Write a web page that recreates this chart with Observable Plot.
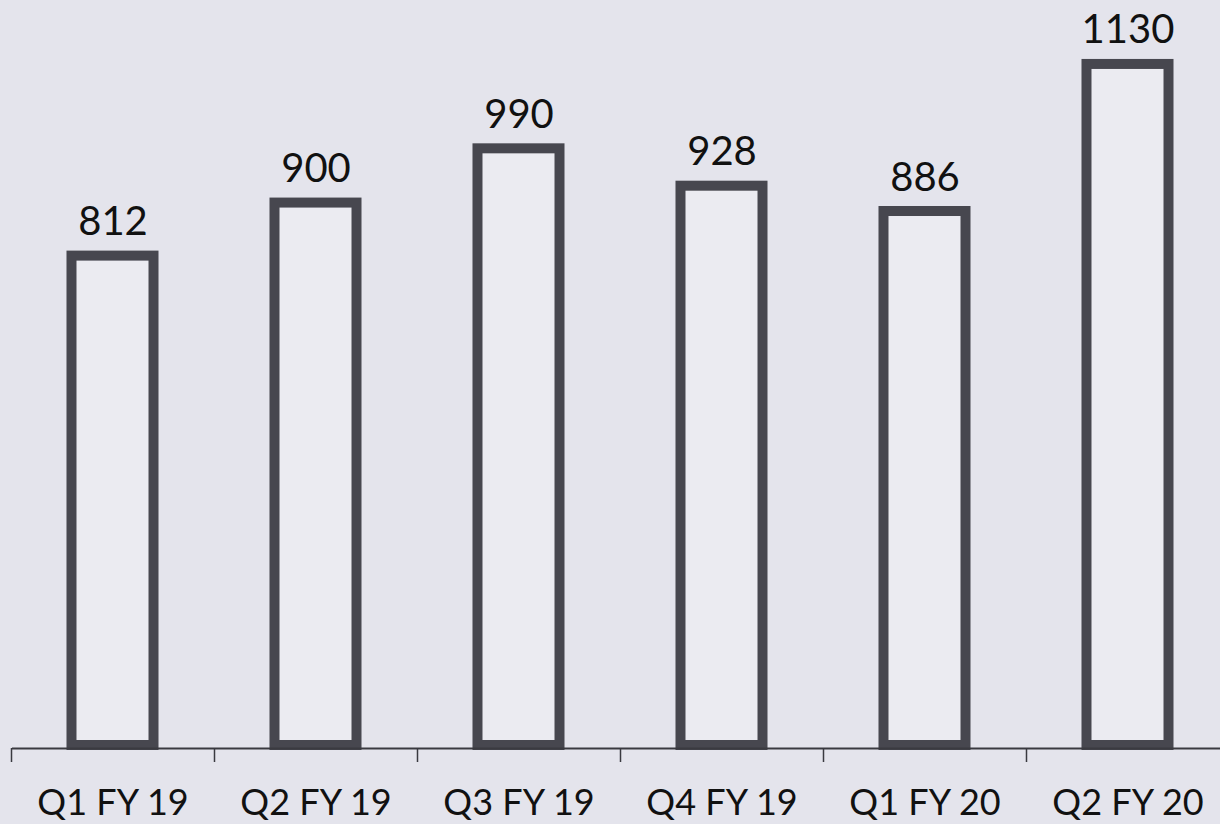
<!DOCTYPE html>
<html>
<head>
<meta charset="utf-8">
<script src="https://cdn.jsdelivr.net/npm/d3@7"></script>
<script src="https://cdn.jsdelivr.net/npm/@observablehq/plot@0.6"></script>
<style>
  html, body { margin: 0; padding: 0; background: #e4e4ec; }
  #chart svg { display: block; background: #e4e4ec; }
</style>
</head>
<body>
<div id="chart"></div>
<script>
const quarters = ["Q1 FY 19", "Q2 FY 19", "Q3 FY 19", "Q4 FY 19", "Q1 FY 20", "Q2 FY 20"];
const values = [812, 900, 990, 928, 886, 1130];

const data = quarters.map((q, i) => ({quarter: q, value: values[i]}));

const x0 = 11, step = 203;
const y0 = 745, pxPerUnit = 0.6027;
const yMax = 1200;

const chart = Plot.plot({
  width: 1220,
  height: 824,
  marginLeft: 0,
  marginRight: 0,
  marginTop: y0 - yMax * pxPerUnit,
  marginBottom: 824 - y0,
  style: {background: "#e4e4ec", fontFamily: "Lato, 'Open Sans', sans-serif", color: "#111"},
  x: {domain: quarters, range: [x0, x0 + step * quarters.length], paddingInner: 0.596, paddingOuter: 0.298, align: 0.5, round: false},
  y: {domain: [0, yMax], axis: null},
  marks: [
    Plot.rectY(data, {x: "quarter", y: "value", fill: "#ebebf1", stroke: "#47474f", strokeWidth: 10}),
    Plot.ruleY([0], {stroke: "#3a3a40", strokeWidth: 2, dy: 3, insetLeft: x0 + 1}),
    Plot.axisX({tickSize: 14, tickFormat: () => "", dx: -step / 2, dy: 3, stroke: "#3a3a40", strokeWidth: 1.5, label: null}),
    Plot.axisX({tickSize: 0, tickPadding: 44, fontSize: 36, fill: "#111", label: null}),
    Plot.text(data, {x: "quarter", y: "value", text: d => String(d.value), lineAnchor: "bottom", dy: -21, fontSize: 40, fill: "#111"})
  ]
});
document.getElementById("chart").append(chart);
</script>
</body>
</html>
